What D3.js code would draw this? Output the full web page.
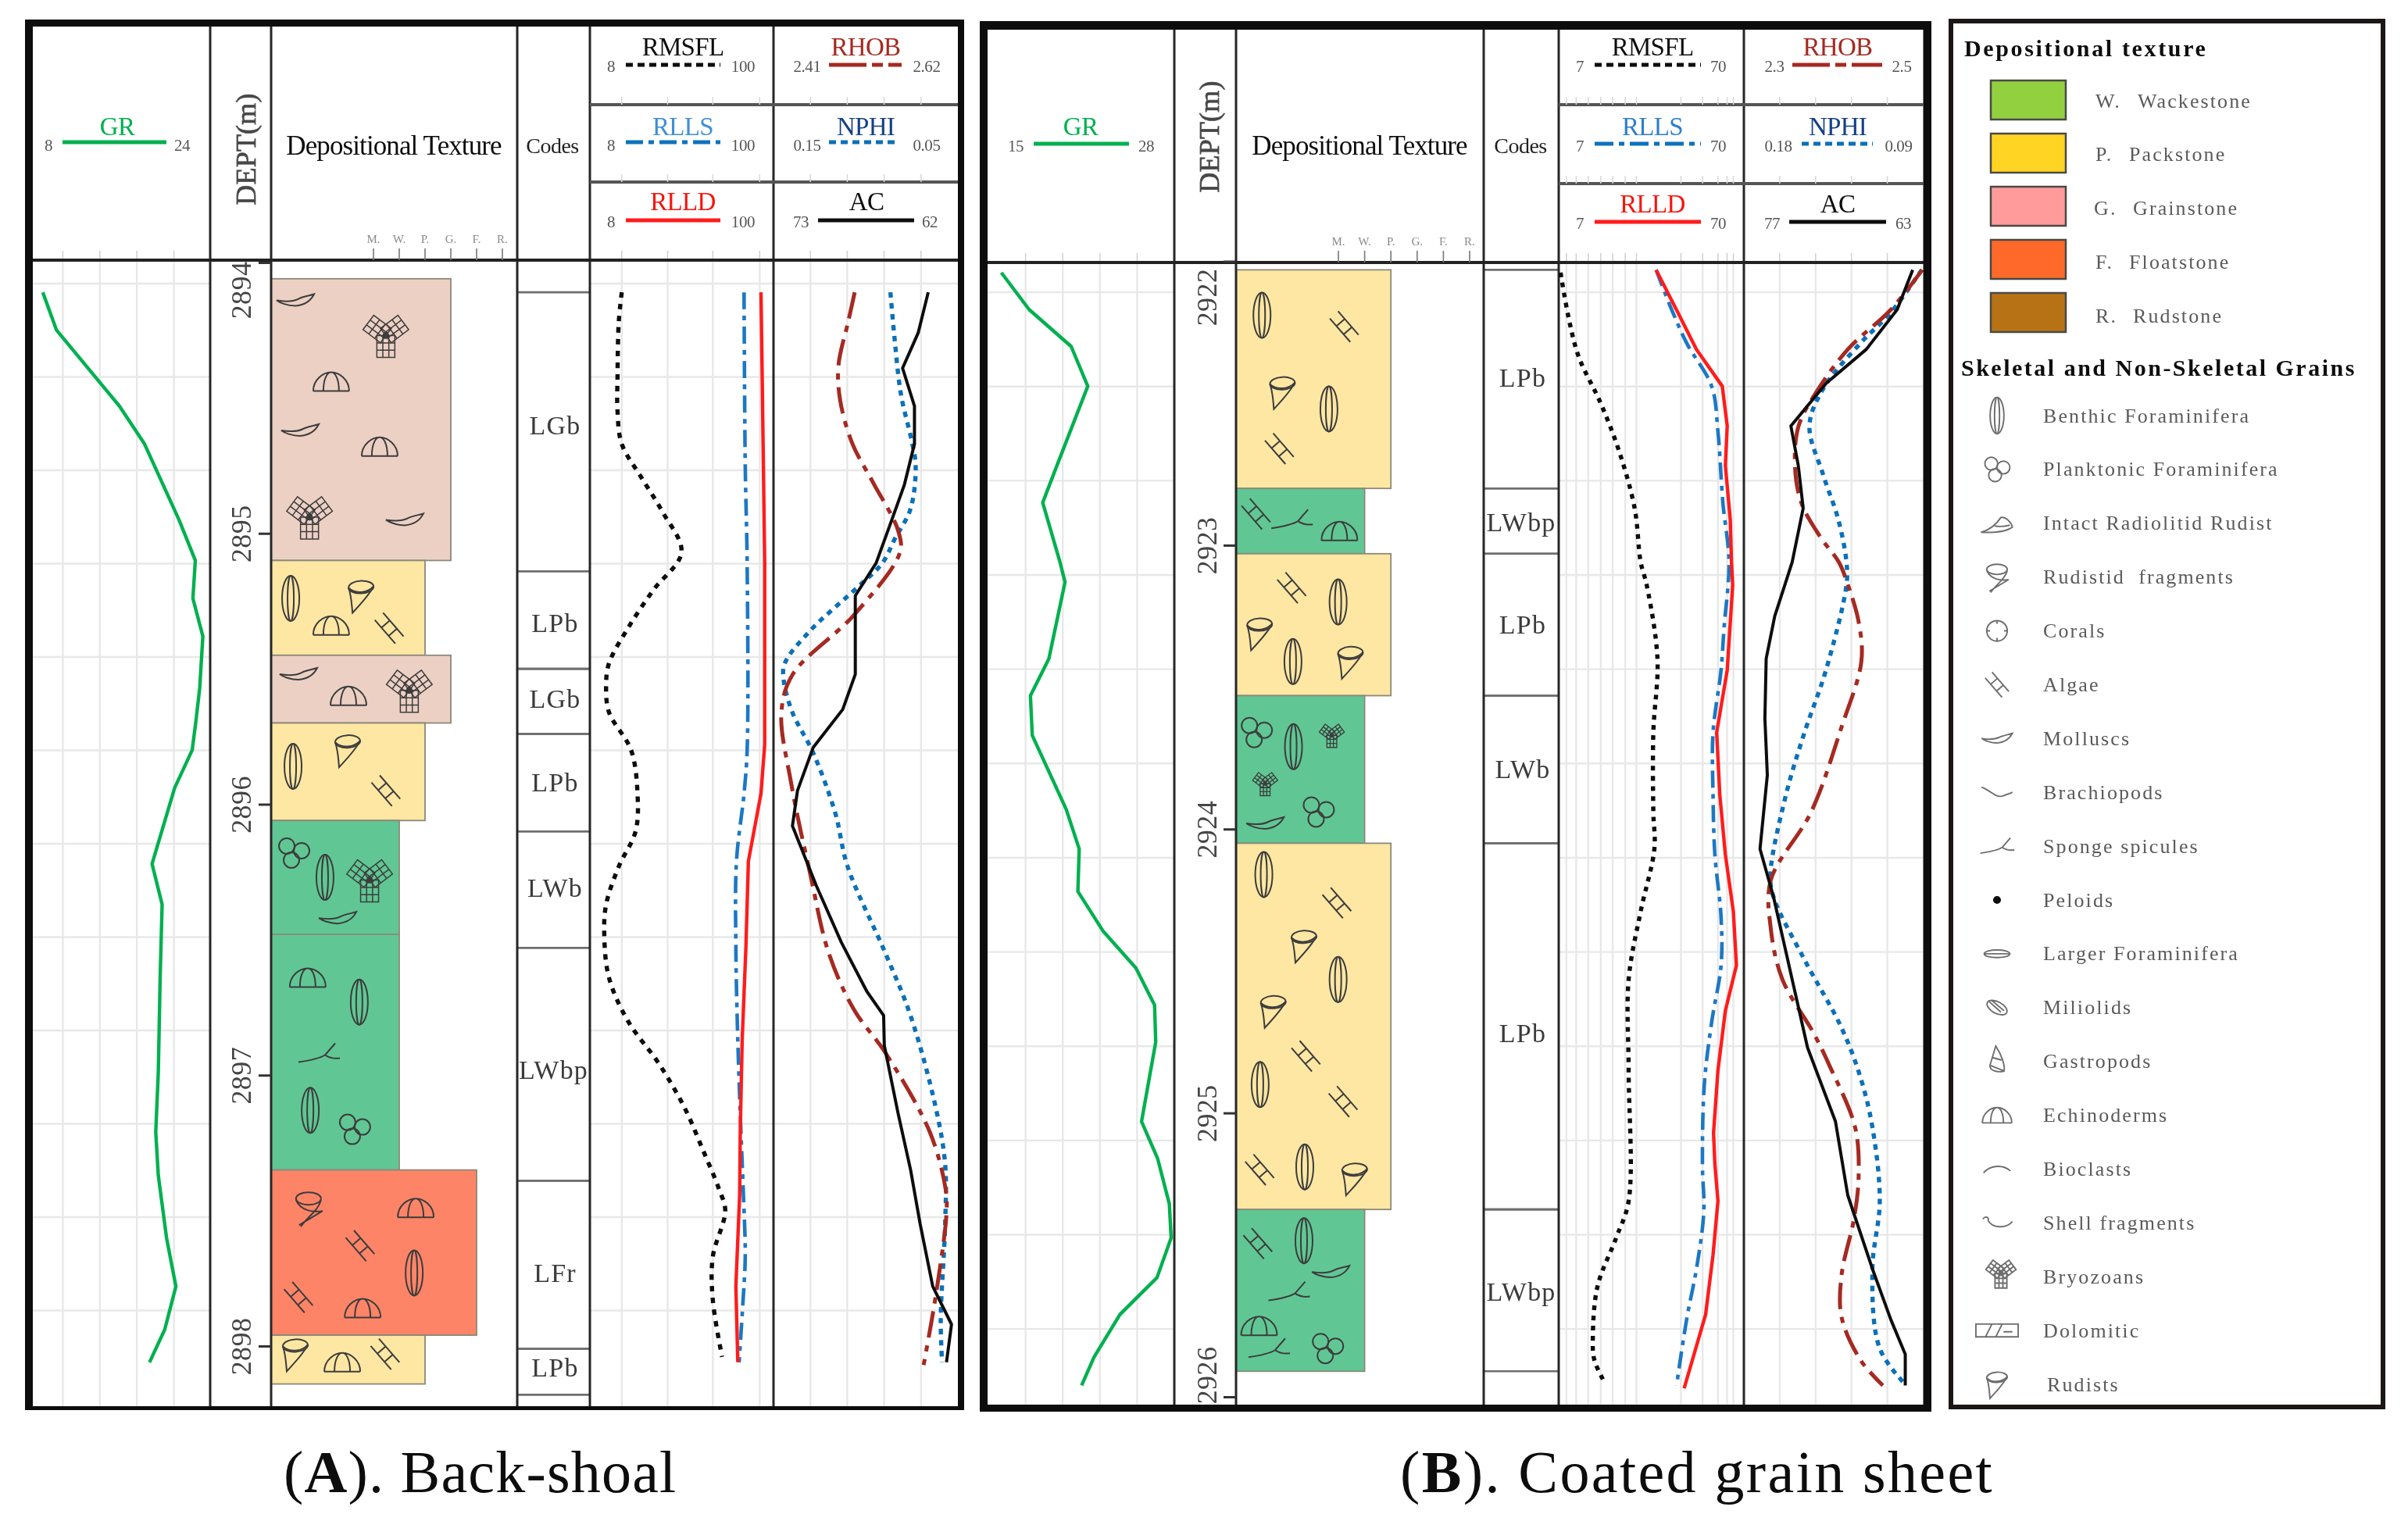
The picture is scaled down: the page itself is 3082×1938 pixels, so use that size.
<!DOCTYPE html>
<html><head><meta charset="utf-8">
<style>html,body{margin:0;padding:0;background:#fff}svg{display:block}text{font-family:"Liberation Serif",serif}</style>
<script src="https://cdn.jsdelivr.net/npm/d3@7/dist/d3.min.js"></script></head><body>
<script>
// ---------- Panel A (Back-shoal) ----------
const grA_d=[2894.11,2894.25,2894.53,2894.67,2894.95,2895.10,2895.24,2895.38,2895.57,2895.69,2895.80,2895.94,2896.22,2896.37,2896.64,2896.99,2897.21,2897.37,2897.60,2897.78,2897.94,2898.06];
const grA_v=[9.47,10.66,16.09,18.26,21.24,22.65,22.44,23.30,23.03,22.71,22.38,20.86,18.91,19.78,19.61,19.45,19.23,19.45,20.16,20.97,20.0,18.69];
const rmsflA_d=[2894.11,2894.22,2894.42,2894.55,2894.67,2894.79,2894.92,2895.07,2895.21,2895.35,2895.48,2895.56,2895.66,2895.80,2895.96,2896.10,2896.23,2896.37,2896.48,2896.64,2896.80,2896.96,2897.12,2897.28,2897.42,2897.50,2897.67,2897.83,2898.04];
const rmsflA_v=[12.4,11.9,11.7,11.7,12.4,16.1,21.7,28.2,19.1,13.5,10.4,10.0,10.4,14.1,15.4,15.0,11.9,10.0,9.75,10.4,13.5,20.8,29.4,38.1,47.2,51.5,43.4,43.4,49.3];
const rllsA_d=[2894.11,2894.75,2895.11,2895.80,2895.96,2896.21,2896.53,2896.87,2897.21,2897.44,2897.67,2897.85,2898.06];
const rllsA_v=[66.7,67.8,69.6,69.6,66.7,60.1,59.6,61.2,63.9,66.1,67.8,65.5,62.3];
const rlldA_d=[2894.11,2894.42,2895.11,2895.78,2895.96,2896.21,2896.53,2896.87,2897.21,2897.44,2897.78,2898.06];
const rlldA_v=[84.2,85.6,88.6,88.6,84.2,70.8,68.4,65.0,63.3,62.8,59.6,61.2];
const rhobA_d=[2894.11,2894.22,2894.38,2894.51,2894.67,2894.81,2894.99,2895.07,2895.30,2895.52,2895.66,2895.92,2896.26,2896.55,2896.76,2896.92,2897.21,2897.42,2897.51,2897.81,2898.07];
const rhobA_v=[2.5025,2.495,2.484,2.486,2.500,2.523,2.552,2.554,2.502,2.432,2.419,2.430,2.452,2.473,2.502,2.538,2.588,2.606,2.607,2.595,2.581];
const nphiA_d=[2894.11,2894.29,2894.49,2894.66,2894.75,2894.91,2895.02,2895.11,2895.20,2895.36,2895.48,2895.54,2895.66,2895.81,2896.03,2896.23,2896.55,2896.78,2897.12,2897.33,2897.55,2897.90,2898.06];
const nphiA_v=[0.0866,0.0842,0.0808,0.0750,0.0729,0.0757,0.0842,0.091,0.1046,0.1302,0.1439,0.1445,0.1398,0.1285,0.1166,0.1098,0.0893,0.0757,0.0620,0.0569,0.0569,0.0593,0.0586];
const acA_d=[2894.11,2894.26,2894.39,2894.53,2894.67,2894.82,2894.95,2895.11,2895.23,2895.52,2895.65,2895.79,2895.95,2896.08,2896.30,2896.51,2896.69,2896.78,2896.89,2897.14,2897.35,2897.55,2897.78,2897.92,2898.06];
const acA_v=[63.77,64.37,65.30,64.59,64.59,65.19,65.94,66.88,68.12,68.12,68.87,70.63,71.57,71.87,70.45,68.95,67.44,66.43,66.39,65.57,64.82,64.25,63.50,62.38,62.68];
const blockA_top=[2894.06,2895.10,2895.45,2895.70,2896.06,2896.48,2897.35,2897.96];
const blockA_base=[2895.10,2895.45,2895.70,2896.06,2896.48,2897.35,2897.96,2898.14];
const blockA_tex=["G.","P.","G.","P.","W.","W.","F.","P."];
const codeA_top=[2894.11,2895.14,2895.50,2895.74,2896.10,2896.53,2897.39,2898.01];
const codeA_base=[2895.14,2895.50,2895.74,2896.10,2896.53,2897.39,2898.01,2898.18];
const codeA_mid=[2894.60,2895.33,2895.61,2895.92,2896.31,2896.98,2897.73,2898.08];
const codeA_label=["LGb","LPb","LGb","LPb","LWb","LWbp","LFr","LPb"];
const grainA_type=["mollusc","bryo","echino","mollusc","echino","bryo","mollusc","foram","rudist","echino","algae","mollusc","echino","bryo","foram","rudist","algae","plankt","foram","bryo","mollusc","echino","foram","sponge","foram","plankt","rudfrag","echino","algae","foram","algae","echino","rudist","echino","algae"];
const grainA_rank=[-3.03,.48,-1.64,-2.85,.24,-2.48,1.21,-3.21,-.48,-1.64,.61,-2.91,-.97,1.39,-3.12,-1,.48,-3.09,-1.88,-.15,-1.39,-2.55,-.55,-2.12,-2.45,-.73,-2.52,1.64,-.52,1.58,-2.91,-.42,-3.03,-1.21,.45];
const grainA_d=[2894.14,2894.27,2894.44,2894.62,2894.68,2894.94,2894.95,2895.24,2895.23,2895.34,2895.35,2895.52,2895.60,2895.58,2895.86,2895.80,2895.95,2896.18,2896.27,2896.28,2896.42,2896.64,2896.73,2896.92,2897.13,2897.20,2897.49,2897.49,2897.63,2897.73,2897.82,2897.86,2898.03,2898.06,2898.03];
const resGridA=[12.4,23.3,43.4,82.7];
const depthTicksA=[2894,2895,2896,2897,2898];

// ---------- Panel B (Coated grain sheet) ----------
const grB_d=[2922.04,2922.17,2922.30,2922.44,2922.72,2922.85,2923.06,2923.13,2923.40,2923.53,2923.67,2923.93,2924.07,2924.22,2924.36,2924.49,2924.62,2924.75,2925.03,2925.16,2925.32,2925.44,2925.58,2925.71,2925.86,2925.96];
const grB_v=[15.91,17.85,20.79,21.95,19.79,18.80,20.01,20.36,19.23,17.94,18.07,20.44,21.35,21.26,23.03,25.32,26.62,26.70,25.71,26.83,27.65,27.78,26.79,24.2,22.39,21.52];
const rmsflB_d=[2922.04,2922.22,2922.34,2922.50,2922.67,2922.87,2923.06,2923.14,2923.40,2923.66,2923.94,2924.07,2924.29,2924.53,2924.85,2925.31,2925.44,2925.61,2925.79,2925.87,2925.95];
const rmsflB_v=[7.16,8.04,9.02,11.8,14.85,18.0,19.4,20.9,23.9,22.7,22.7,23.0,19.4,16.7,16.7,16.7,14.3,11.35,10.7,10.9,12.4];
const rllsB_d=[2922.03,2922.17,2922.29,2922.44,2922.60,2922.85,2923.06,2923.29,2923.44,2923.66,2923.88,2924.09,2924.31,2924.48,2924.68,2924.90,2925.18,2925.35,2925.55,2925.72,2925.96];
const rllsB_v=[23.5,28.5,34.5,46.9,50.7,53.9,58.2,54.7,52.7,47.7,47.7,48.8,52.7,52.7,46.9,42.8,41.8,42.5,38.8,34.5,30.3];
const rlldB_d=[2922.03,2922.18,2922.31,2922.44,2922.58,2922.72,2922.91,2923.06,2923.14,2923.44,2923.66,2923.88,2924.09,2924.29,2924.48,2924.64,2924.85,2925.07,2925.18,2925.31,2925.50,2925.71,2925.97];
const rlldB_v=[23.5,30.8,38.8,53.5,56.9,55.6,59.1,60.0,60.9,56.9,49.9,51.9,55.6,61.4,63.8,55.6,50.7,48.0,48.8,50.7,47.7,43.5,33.3];
const rhobB_d=[2922.03,2922.17,2922.31,2922.46,2922.58,2922.72,2922.85,2922.97,2923.06,2923.13,2923.27,2923.41,2923.64,2923.94,2924.18,2924.35,2924.53,2924.72,2924.83,2925.05,2925.22,2925.37,2925.57,2925.72,2925.87,2925.96];
const rhobB_v=[2.499,2.464,2.416,2.381,2.361,2.357,2.364,2.385,2.406,2.415,2.428,2.431,2.409,2.375,2.330,2.330,2.343,2.378,2.395,2.424,2.428,2.423,2.409,2.409,2.430,2.455];
const nphiB_d=[2922.03,2922.18,2922.29,2922.45,2922.58,2922.75,2922.91,2923.06,2923.14,2923.44,2923.66,2923.88,2924.16,2924.24,2924.46,2924.70,2924.87,2925.05,2925.31,2925.55,2925.83,2925.96];
const nphiB_v=[0.0907,0.1062,0.1217,0.1403,0.1471,0.1403,0.1326,0.1285,0.1285,0.1388,0.1496,0.1589,0.1667,0.1651,0.1496,0.1310,0.1217,0.1155,0.1118,0.1155,0.1118,0.0985];
const acB_d=[2922.03,2922.17,2922.31,2922.43,2922.58,2922.72,2922.87,2923.06,2923.25,2923.40,2923.61,2923.81,2924.07,2924.24,2924.53,2924.77,2925.03,2925.29,2925.55,2925.73,2925.85,2925.96];
const acB_v=[63.82,65.03,67.44,70.58,73.33,72.75,72.37,73.23,74.59,75.26,75.36,75.17,75.74,74.68,73.23,72.03,69.85,68.89,66.96,65.51,64.40,64.40];
const blockB_top=[2922.03,2922.80,2923.03,2923.53,2924.05,2925.34];
const blockB_base=[2922.80,2923.03,2923.53,2924.05,2925.34,2925.91];
const blockB_tex=["P.","W.","P.","W.","P.","W."];
const codeB_label=["LPb","LWbp","LPb","LWb","LPb","LWbp"];
const codeB_mid=[2922.41,2922.92,2923.28,2923.79,2924.72,2925.63];
const grainB_type=["foram","algae","rudist","foram","algae","algae","sponge","echino","algae","foram","rudist","foram","rudist","plankt","foram","bryoS","bryoS","mollusc","plankt","foram","algae","rudist","foram","rudist","algae","foram","algae","algae","foram","rudist","algae","foram","mollusc","sponge","echino","sponge","plankt"];
const grainB_rank=[-2.91,.22,-2.13,-.36,-2.25,-3.14,-1.78,.04,-1.78,-.01,-3.0,-1.73,.46,-3.12,-1.71,-.25,-2.79,-2.79,-.76,-2.84,-.06,-1.31,-.01,-2.48,-1.24,-2.98,.18,-3.0,-1.28,.62,-3.07,-1.31,-.29,-1.89,-3.02,-2.65,-.41];
const grainB_d=[2922.19,2922.23,2922.46,2922.52,2922.66,2922.89,2922.91,2922.95,2923.15,2923.20,2923.31,2923.41,2923.41,2923.66,2923.71,2923.67,2923.84,2923.98,2923.94,2924.16,2924.26,2924.41,2924.53,2924.64,2924.80,2924.90,2924.96,2925.20,2925.19,2925.23,2925.46,2925.45,2925.56,2925.63,2925.75,2925.83,2925.83];
const resGridB=[7.7,8.7,10.1,11.8,13.7,16,18.4,32,41.9,50.7,56.8,61.4];
const depthTicksB=[2922,2923,2924,2925,2926];

// ---------- Shared ----------
const textureRanks=["M.","W.","P.","G.","F.","R."];
const textureNames=["W.","P.","G.","F.","R."];
const textureLong=["Wackestone","Packstone","Grainstone","Floatstone","Rudstone"];
const textureColors=["#92d040","#ffd421","#ff9c9b","#ff6a2a","#b87215"];
const grainNames=["Benthic Foraminifera","Planktonic Foraminifera","Intact Radiolitid Rudist","Rudistid  fragments","Corals","Algae","Molluscs","Brachiopods","Sponge spicules","Peloids","Larger Foraminifera","Miliolids","Gastropods","Echinoderms","Bioclasts","Shell fragments","Bryozoans","Dolomitic","Rudists"];
const grainIcons=["foram","plankt","intact","rudfrag","coral","algae","mollusc","brach","sponge","peloid","larger","miliolid","gastro","echino","bioclast","shell","bryo","dolo","rudist"];
const codeFill={"LG":"#ecd0c4","LP":"#fee7a3","LW":"#60c794","LF":"#fe8468"};

const W=3082,H=1938;
const svg=d3.select("body").append("svg").attr("width",W).attr("height",H).attr("viewBox",`0 0 ${W} ${H}`);
const defs=svg.append("defs");
defs.append("filter").attr("id","soft").attr("filterUnits","userSpaceOnUse").attr("x",0).attr("y",0).attr("width",W).attr("height",H)
  .append("feGaussianBlur").attr("stdDeviation",0.55);
const root=svg.append("g").attr("filter","url(#soft)");
root.append("rect").attr("width",W).attr("height",H).attr("fill","#fff");

function sym(g,type,x,y,s,color,sw){
  const n=g.append("g").attr("transform",`translate(${x},${y}) scale(${s})`).attr("fill","none").attr("stroke",color||"#4a4a4a").attr("stroke-width",(sw||1.9)/s);
  const p=d=>n.append("path").attr("d",d);
  const el=(cx,cy,rx,ry,rot)=>n.append("ellipse").attr("cx",cx).attr("cy",cy).attr("rx",rx).attr("ry",ry).attr("transform",rot?`rotate(${rot} ${cx} ${cy})`:null);
  const lattice=(rot,w,h,nx,ny)=>{const a=n.append("g").attr("transform",`rotate(${rot})`);let d=`M${-w/2},0H${w/2}V${h}H${-w/2}Z`;for(let i=1;i<nx;i++)d+=`M${-w/2+i*w/nx},0V${h}`;for(let j=1;j<ny;j++)d+=`M${-w/2},${j*h/ny}H${w/2}`;a.append("path").attr("d",d)};
  switch(type){
    case "foram":el(0,0,11,29);el(0,0,4,29);break;
    case "plankt":n.append("circle").attr("cx",-9).attr("cy",-9).attr("r",10);n.append("circle").attr("cx",10).attr("cy",-3).attr("r",10);n.append("circle").attr("cx",-3).attr("cy",9).attr("r",10);break;
    case "echino":p("M-23,12H23M-23,12C-23,-3,-10,-12,0,-12C10,-12,23,-3,23,12M-10,12C-10,-4,-5,-12,0,-12C5,-12,10,-4,10,12");break;
    case "algae":n.append("g").attr("transform","rotate(49)").append("path").attr("d","M-20,-7H20M-20,7H20M-7,-7V7M7,-7V7");break;
    case "rudist":el(0,-11,16,8,-3);p("M-16,-10C-12,2,-12,12,-11,22C-2,12,10,0,16,-12");p("M-16,-10C-8,-2,8,-3,16,-12");break;
    case "rudfrag":el(0,-12,16,8);p("M-16,-10C-10,4,6,6,18,4L-12,22M16,-10C12,4,0,10,-10,24");break;
    case "mollusc":p("M-24,0C-12,2,-2,1,4,-2C10,-5,18,-6,24,-8C20,0,12,6,0,7C-10,7,-20,3,-24,0Z");break;
    case "sponge":p("M-26,11C-12,9,0,7,8,2L21,-13M8,2C14,6,20,7,27,6");break;
    case "bryo":lattice(0,23,28,3,3);lattice(127,23,28,3,3);lattice(-127,23,28,3,3);n.append("circle").attr("r",3.5).attr("fill",color||"#333");break;
    case "coral":n.append("circle").attr("r",16);p("M-16,0H-11M16,0H11M0,-16V-11M0,16V11");break;
    case "intact":p("M-25,14C-10,10,0,0,6,-9C14,-11,23,0,24,6C14,13,0,15,-25,14Z");p("M-4,4C4,6,12,5,20,3");break;
    case "brach":p("M-24,-8C-8,-2,-4,8,8,6C14,4,20,2,24,0");break;
    case "peloid":n.append("circle").attr("r",5).attr("fill","#111").attr("stroke","#111");break;
    case "larger":el(0,0,20,6);p("M-20,0H20");break;
    case "miliolid":el(0,0,17,9,28);p("M-12,-9L6,7M-8,-11L11,5");break;
    case "gastro":p("M-2,-24L-11,6C-12,14,0,18,11,15C13,6,6,-12,-2,-24ZM-7,-6L7,-2M-11,6L11,15");break;
    case "bioclast":p("M-21,6C-10,-7,10,-7,21,3");break;
    case "shell":p("M-22,-6C-18,-12,-12,-8,-14,-4C-8,8,14,10,24,-2");break;
    case "dolo":p("M-33,-10H33V10H-33ZM-18,10L-8,-10M-2,10L8,-10M10,2H24");break;
  }
}

function frame(g,c){
  const f=(x,y,w,h)=>g.append("rect").attr("x",x).attr("y",y).attr("width",w).attr("height",h).attr("fill","#0a0a0a");
  f(c.x0,c.y0,c.x1-c.x0,c.topT);f(c.x0,c.y1-c.botT,c.x1-c.x0,c.botT);f(c.x0,c.y0,c.leftT,c.y1-c.y0);f(c.x1-c.rightT,c.y0,c.rightT,c.y1-c.y0);
}

function panel(c){
  const g=root.append("g");
  const y=d3.scaleLinear().domain(c.depthDomain).range(c.depthRange);
  const rank=d3.scaleLinear().domain([0,5]).range(c.rankRange);
  const xGR=d3.scaleLinear().domain(c.grDomain).range(c.tGR);
  const xRes=d3.scaleLog().domain(c.resDomain).range(c.tRes);
  const xRHOB=d3.scaleLinear().domain(c.rhobDomain).range(c.tDen);
  const xNPHI=d3.scaleLinear().domain(c.nphiDomain).range(c.tDen);
  const xAC=d3.scaleLinear().domain(c.acDomain).range(c.tDen);
  const plotTop=c.headY, plotBot=c.y1-c.botT;
  const gridCol="#e8e8e8";
  const hg=d3.range(c.hGrid[0],c.depthDomain[1]+.1,c.hGrid[1]);
  [[c.x0+c.leftT,c.cols[0]],[c.cols[3],c.x1-c.rightT]].forEach(([a,b])=>{
    g.selectAll(null).data(hg.filter(d=>y(d)<plotBot-8)).join("line").attr("x1",a).attr("x2",b).attr("y1",d=>y(d)).attr("y2",d=>y(d)).attr("stroke",gridCol).attr("stroke-width",2.4);
  });
  const vg=[];
  const grStep=(c.grDomain[1]-c.grDomain[0])/5;
  [1,2,3,4].forEach(i=>vg.push(xGR(c.grDomain[0]+i*grStep)));
  c.resGrid.forEach(v=>vg.push(xRes(v)));
  const denStep=(c.rhobDomain[1]-c.rhobDomain[0])/5;
  [1,2,3,4].forEach(i=>vg.push(xRHOB(c.rhobDomain[0]+i*denStep)));
  g.selectAll(null).data(vg).join("line").attr("x1",d=>d).attr("x2",d=>d).attr("y1",plotTop).attr("y2",plotBot).attr("stroke",gridCol).attr("stroke-width",2.4);
  g.selectAll(null).data(vg).join("line").attr("x1",d=>d).attr("x2",d=>d).attr("y1",plotTop-12).attr("y2",plotTop).attr("stroke","#cfcfcf").attr("stroke-width",1.5);
  c.blockTop.forEach((t,i)=>{
    const key=c.codes[i].slice(0,2);
    g.append("rect").attr("x",c.cols[1]).attr("y",y(t)).attr("width",rank(textureRanks.indexOf(c.blockTex[i]))-c.cols[1]).attr("height",y(c.blockBase[i])-y(t))
      .attr("fill",codeFill[key]).attr("stroke","#8a8a7a").attr("stroke-width",1.8);
  });
  c.grainType.forEach((t,i)=>sym(g,t==="bryoS"?"bryo":t,rank(c.grainRank[i]),y(c.grainD[i]),t==="bryoS"?0.55:1,"#3c3c3c",t==="bryoS"?1.3:(t==="bryo"?1.5:2)));
  c.codeTop.forEach((t,i)=>{
    const a=y(t),b=y(c.codeBase[i]);
    g.selectAll(null).data([a,b]).join("line").attr("x1",c.cols[2]).attr("x2",c.cols[3]).attr("y1",d=>d).attr("y2",d=>d).attr("stroke","#6e6e6e").attr("stroke-width",2.6);
    g.append("text").attr("x",(c.cols[2]+c.cols[3])/2+(c.codes[i]==="LWbp"?0:2)).attr("y",y(c.codeMid[i])).attr("dominant-baseline","central").attr("text-anchor","middle")
      .attr("font-size",34).attr("letter-spacing",1.2).attr("fill","#3a3a3a").text(c.codes[i]);
  });
  g.selectAll(null).data(c.cols).join("line").attr("x1",d=>d).attr("x2",d=>d).attr("y1",c.y0).attr("y2",c.y1).attr("stroke","#262626").attr("stroke-width",3);
  g.append("line").attr("x1",c.x0).attr("x2",c.x1).attr("y1",c.headY).attr("y2",c.headY).attr("stroke","#222").attr("stroke-width",4);
  c.subY.forEach(v=>{
    g.append("line").attr("x1",c.cols[3]).attr("x2",c.x1-c.rightT).attr("y1",v).attr("y2",v).attr("stroke","#555").attr("stroke-width",4);
    g.selectAll(null).data(vg.filter(d=>d>c.cols[3])).join("line").attr("x1",d=>d).attr("x2",d=>d).attr("y1",v-10).attr("y2",v).attr("stroke","#d8d8d8").attr("stroke-width",1.5);
  });
  const ax=g.append("g").attr("transform",`translate(${c.cols[1]},0)`).call(d3.axisLeft(y).tickValues(c.depthTicks).tickFormat(d3.format("d")).tickSize(16).tickSizeOuter(0));
  ax.select(".domain").remove();
  ax.selectAll(".tick line").attr("stroke","#333").attr("stroke-width",3);
  ax.selectAll(".tick text").attr("font-family","Liberation Serif").attr("font-size",36).attr("fill","#444").attr("letter-spacing",0.4)
    .attr("dominant-baseline","auto").attr("dy",null).attr("text-anchor","middle")
    .attr("transform",d=>{const p=y(d);const q=Math.min(Math.max(p,c.headY+c.firstShift),plotBot-38);return `translate(${c.depthLabelX-c.cols[1]},${q-p}) rotate(-90)`})
    .attr("x",0).attr("y",0);
  g.append("text").attr("transform",`translate(${c.deptX},${c.deptY}) rotate(-90)`).attr("text-anchor","middle").attr("font-size",36).attr("letter-spacing",0.2).attr("stroke","#555").attr("stroke-width",.8).attr("fill","#444").text("DEPT(m)");
  const draw=(xs,ds,vs,color,dash,w,curve)=>{
    const data=ds.map((d,i)=>[vs[i],d]);
    g.append("path").datum(data).attr("d",d3.line().x(p=>xs(p[0])).y(p=>y(p[1])).curve(curve)).attr("fill","none").attr("stroke",color).attr("stroke-width",w).attr("stroke-dasharray",dash).attr("stroke-linejoin","round");
  };
  const S=c.series;
  draw(xGR,S.grD,S.grV,"#00b050",null,4.4,d3.curveLinear);
  draw(xRes,S.rmD,S.rmV,"#0a0a0a",c.dashRM,5.4,d3.curveCatmullRom);
  draw(xRes,S.rsD,S.rsV,"#1f78c4","22 8 6 8",4.6,d3.curveCatmullRom);
  draw(xRes,S.rdD,S.rdV,"#ff1c1c",null,4.4,d3.curveLinear);
  draw(xNPHI,S.nD,S.nV,"#0870b8","7 7",5.4,d3.curveCatmullRom);
  draw(xRHOB,S.rhD,S.rhV,"#a52a20","34 10 8 10",5,d3.curveCatmullRom);
  draw(xAC,S.aD,S.aV,"#0e0e0e",null,4,d3.curveLinear);
  textureRanks.forEach((t,i)=>{
    g.append("line").attr("x1",rank(i)).attr("x2",rank(i)).attr("y1",c.headY-15).attr("y2",c.headY).attr("stroke","#777").attr("stroke-width",1.6);
    g.append("text").attr("x",rank(i)).attr("y",c.headY-22).attr("text-anchor","middle").attr("font-size",15).attr("fill","#8a8a8a").text(t);
  });
  const T=(x,yy,s,size,fill,extra)=>{const e=g.append("text").attr("x",x).attr("y",yy).attr("dominant-baseline","central").attr("text-anchor","middle").attr("font-size",size).attr("fill",fill).text(s);if(extra!=null)e.attr("letter-spacing",extra);return e};
  T(c.dtX,186,"Depositional Texture",35,"#111",-0.9);
  T(c.codesX,186,"Codes",28,"#222",-0.5);
  c.legends.forEach(l=>{
    T(l.cx,l.ty,l.name,l.size||33,l.color,-0.7);
    g.append("line").attr("x1",l.x1).attr("x2",l.x2).attr("y1",l.ly).attr("y2",l.ly).attr("stroke",l.line).attr("stroke-width",l.w||5).attr("stroke-dasharray",l.dash);
    T(l.lx,l.vy,l.lo,21,"#555",-0.4);
    T(l.hx,l.vy,l.hi,21,"#555",-0.4);
  });
  frame(g,c);
}

panel({x0:32,x1:1234,y0:25,y1:1805,topT:9,botT:5,leftT:10,rightT:8,cols:[269,347,662,755,990],headY:333,subY:[134,233],
  depthDomain:[2894,2898],depthRange:[336,1723],rankRange:[478,643],grDomain:[8,24],tGR:[33,270],resDomain:[8,100],tRes:[755,990],rhobDomain:[2.41,2.62],nphiDomain:[.15,.05],acDomain:[73,62],tDen:[990,1226],
  hGrid:[2894.078,.3446],resGrid:resGridA,depthTicks:depthTicksA,firstShift:38,depthLabelX:321,deptX:327,deptY:191,dtX:504,codesX:707,dashRM:"7 8",
  blockTop:blockA_top,blockBase:blockA_base,blockTex:blockA_tex,codes:codeA_label,codeTop:codeA_top,codeBase:codeA_base,codeMid:codeA_mid,grainType:grainA_type,grainRank:grainA_rank,grainD:grainA_d,
  series:{grD:grA_d,grV:grA_v,rmD:rmsflA_d,rmV:rmsflA_v,rsD:rllsA_d,rsV:rllsA_v,rdD:rlldA_d,rdV:rlldA_v,rhD:rhobA_d,rhV:rhobA_v,nD:nphiA_d,nV:nphiA_v,aD:acA_d,aV:acA_v},
  legends:[
   {name:"GR",color:"#00b050",cx:150,ty:162,x1:80,x2:213,ly:182,line:"#00b050",lx:62,hx:233,vy:186,lo:"8",hi:"24"},
   {name:"RMSFL",color:"#111",cx:874,ty:60,x1:801,x2:922,ly:83,line:"#0a0a0a",dash:"9 6",lx:782,hx:951,vy:85,lo:"8",hi:"100"},
   {name:"RLLS",color:"#3f8fd6",cx:874,ty:162,x1:801,x2:922,ly:182,line:"#0f72bd",dash:"22 7 7 7",lx:782,hx:951,vy:186,lo:"8",hi:"100"},
   {name:"RLLD",color:"#f5130f",cx:874,ty:258,x1:801,x2:922,ly:282,line:"#ff1c1c",lx:782,hx:951,vy:284,lo:"8",hi:"100"},
   {name:"RHOB",color:"#a52a20",cx:1108,ty:60,x1:1061,x2:1154,ly:83,line:"#a52a20",dash:"48 7 14 7",lx:1033,hx:1186,vy:85,lo:"2.41",hi:"2.62"},
   {name:"NPHI",color:"#143f85",cx:1108,ty:162,x1:1061,x2:1151,ly:182,line:"#0870b8",dash:"9 6",lx:1033,hx:1186,vy:186,lo:"0.15",hi:"0.05"},
   {name:"AC",color:"#111",cx:1109,ty:258,x1:1047,x2:1170,ly:282,line:"#111",lx:1025,hx:1190,vy:284,lo:"73",hi:"62"}
  ]});

panel({x0:1254,x1:2472,y0:27,y1:1807,topT:11,botT:9,leftT:10,rightT:10.5,cols:[1503,1582,1899,1995,2232],headY:336,subY:[134,235],
  depthDomain:[2922,2926],depthRange:[334.5,1788],rankRange:[1713,1881],grDomain:[15,28],tGR:[1265,1503],resDomain:[7,70],tRes:[1995,2232],rhobDomain:[2.3,2.5],nphiDomain:[.18,.09],acDomain:[77,63],tDen:[2232,2461.5],
  hGrid:[2922.109,.332],resGrid:resGridB,depthTicks:depthTicksB,firstShift:44,depthLabelX:1557,deptX:1560,deptY:175,dtX:1740,codesX:1946,dashRM:"6 7",
  blockTop:blockB_top,blockBase:blockB_base,blockTex:blockB_tex,codes:codeB_label,codeTop:blockB_top,codeBase:blockB_base,codeMid:codeB_mid,grainType:grainB_type,grainRank:grainB_rank,grainD:grainB_d,
  series:{grD:grB_d,grV:grB_v,rmD:rmsflB_d,rmV:rmsflB_v,rsD:rllsB_d,rsV:rllsB_v,rdD:rlldB_d,rdV:rlldB_v,rhD:rhobB_d,rhV:rhobB_v,nD:nphiB_d,nV:nphiB_v,aD:acB_d,aV:acB_v},
  legends:[
   {name:"GR",color:"#00b050",cx:1383,ty:162,x1:1323,x2:1445,ly:184,line:"#00b050",lx:1300,hx:1467,vy:187,lo:"15",hi:"28"},
   {name:"RMSFL",color:"#111",cx:2115,ty:60,x1:2041,x2:2177,ly:83,line:"#0a0a0a",dash:"9 6",lx:2022,hx:2199,vy:85,lo:"7",hi:"70"},
   {name:"RLLS",color:"#2f7fc9",cx:2115,ty:162,x1:2041,x2:2177,ly:184,line:"#0f72bd",dash:"24 7 7 7",lx:2022,hx:2199,vy:187,lo:"7",hi:"70"},
   {name:"RLLD",color:"#f5130f",cx:2115,ty:261,x1:2041,x2:2177,ly:284,line:"#ff1c1c",lx:2022,hx:2199,vy:286,lo:"7",hi:"70"},
   {name:"RHOB",color:"#a52a20",cx:2352,ty:60,x1:2294,x2:2409,ly:83,line:"#a52a20",dash:"48 7 14 7",lx:2271,hx:2434,vy:85,lo:"2.3",hi:"2.5"},
   {name:"NPHI",color:"#143f85",cx:2352,ty:162,x1:2306,x2:2397,ly:184,line:"#0870b8",dash:"9 6",lx:2276,hx:2430,vy:187,lo:"0.18",hi:"0.09"},
   {name:"AC",color:"#111",cx:2352,ty:261,x1:2290,x2:2414,ly:284,line:"#111",lx:2268,hx:2436,vy:286,lo:"77",hi:"63"}
  ]});

// ---------- Key ----------
const lg=root.append("g");
lg.append("rect").attr("x",2497).attr("y",27).attr("width",553).attr("height",1774).attr("fill","#fff").attr("stroke","#1a1212").attr("stroke-width",6);
lg.append("text").attr("x",2514).attr("y",61).attr("dominant-baseline","central").attr("font-weight","bold").attr("font-size",30).attr("letter-spacing",2.65).attr("fill","#0c0c0c").text("Depositional texture");
lg.append("text").attr("x",2510).attr("y",470).attr("dominant-baseline","central").attr("font-weight","bold").attr("font-size",30).attr("letter-spacing",2.5).attr("fill","#0c0c0c").text("Skeletal and Non-Skeletal Grains");
const swY=d3.scalePoint().domain(textureNames).range([128,400]);
const swText=d3.scalePoint().domain(textureNames).range([129,404]);
const nameX=[2736,2725,2730,2725,2730];
textureNames.forEach((t,i)=>{
  lg.append("rect").attr("x",2548).attr("y",swY(t)-25).attr("width",96).attr("height",50).attr("fill",textureColors[i]).attr("stroke","#4a4a44").attr("stroke-width",2.5);
  lg.append("text").attr("x",i===2?2680:2682).attr("y",swText(t)).attr("dominant-baseline","central").attr("font-size",26).attr("letter-spacing",2.1).attr("fill","#5a5a5a").text(t);
  lg.append("text").attr("x",nameX[i]).attr("y",swText(t)).attr("dominant-baseline","central").attr("font-size",26).attr("letter-spacing",2.1).attr("fill","#5a5a5a").text(textureLong[i]);
});
const itemY=d3.scalePoint().domain(grainNames).range([532,1772]);
grainNames.forEach((t,i)=>{
  const yy=itemY(t);
  lg.append("text").attr("x",t==="Rudists"?2620:2615).attr("y",yy).attr("dominant-baseline","central").style("white-space","pre").attr("font-size",26).attr("letter-spacing",2.1).attr("fill","#5a5a5a").text(t);
  const ic=grainIcons[i];
  sym(lg,ic,ic==="bryo"?2561:2556,yy+(ic==="bryo"?-4:0),ic==="foram"?.8:(ic==="bryo"?.66:.82),"#6e6e6e",1.9);
});

// ---------- Captions ----------
const caption=(x,letter,rest,sp)=>{
  const t=root.append("text").attr("x",x).attr("y",1884).attr("dominant-baseline","central").attr("font-size",76).attr("letter-spacing",sp).attr("fill","#0a0a0a").style("font-family","'Liberation Serif',serif");
  t.append("tspan").text("(");t.append("tspan").attr("font-weight","bold").text(letter);t.append("tspan").text(")."+rest);
};
caption(363,"A"," Back-shoal",1.2);
caption(1792,"B"," Coated grain sheet",2.4);
</script>
</body></html>
